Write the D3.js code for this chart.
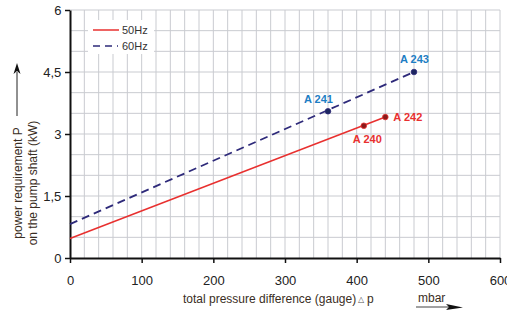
<!DOCTYPE html>
<html>
<head>
<meta charset="utf-8">
<script src="https://cdn.jsdelivr.net/npm/d3@7"></script>
<style>
  body { margin: 0; background: #fff; }
  text { font-family: "Liberation Sans", Arial, sans-serif; }
</style>
</head>
<body>
<div id="chart"></div>
<script>
// data
const xTicks = [0, 100, 200, 300, 400, 500, 600];
const yTicks = [0, 1.5, 3, 4.5, 6];
const yTickLabels = ["0", "1,5", "3", "4,5", "6"];

const line50 = [[0, 0.47], [440, 3.41]];
const line60 = [[0, 0.82], [480, 4.5]];

const pumpNames = ["A 240", "A 241", "A 242", "A 243"];
const pumpX = [410, 360, 440, 480];
const pumpY = [3.2, 3.55, 3.41, 4.5];
const pumpSeries = ["50", "60", "50", "60"];

const width = 507, height = 314;
const m = { left: 70, right: 7, top: 10, bottom: 56 };

const svg = d3.select('#chart').append('svg')
    .attr('width', width)
    .attr('height', height);

const x = d3.scaleLinear().domain([0, 600]).range([m.left, width - m.right]);
const y = d3.scaleLinear().domain([0, 6]).range([height - m.bottom, m.top]);

const red = '#e8302f', navy = '#2e2a7a', blue = '#1d7ec4';

// grid: every 20 mbar, every 0.5 kW
const grid = svg.append('g').attr('stroke', '#c9cbd0').attr('stroke-width', 1);
grid.selectAll('line.v').data(d3.range(20, 601, 20)).join('line')
    .attr('x1', d => x(d)).attr('x2', d => x(d))
    .attr('y1', y(0)).attr('y2', y(6));
grid.selectAll('line.h').data(d3.range(0.5, 6.01, 0.5)).join('line')
    .attr('x1', x(0)).attr('x2', x(600))
    .attr('y1', d => y(d)).attr('y2', d => y(d));

// axes
const xAxis = svg.append('g')
    .attr('transform', `translate(0,${y(0)})`)
    .call(d3.axisBottom(x).tickValues(xTicks).tickSize(5).tickSizeOuter(0));
const yAxis = svg.append('g')
    .attr('transform', `translate(${x(0)},0)`)
    .call(d3.axisLeft(y).tickValues(yTicks).tickFormat((d, i) => yTickLabels[i]).tickSize(5).tickSizeOuter(0));
[xAxis, yAxis].forEach(a => {
    a.select('.domain').attr('stroke', '#111').attr('stroke-width', 2);
    a.selectAll('.tick line').attr('stroke', '#111').attr('stroke-width', 1.5);
    a.selectAll('.tick text').attr('font-size', 13).attr('fill', '#222')
        .style('font-family', '"Liberation Sans", Arial, sans-serif');
});
xAxis.selectAll('.tick text').attr('dy', '1.45em');
yAxis.selectAll('.tick text').attr('dx', '-0.05em');

// legend box
const lg = svg.append('g');
lg.append('rect').attr('x', 88).attr('y', 20).attr('width', 66).attr('height', 34).attr('fill', '#fff');
lg.append('line').attr('x1', 93).attr('x2', 119).attr('y1', 30).attr('y2', 30)
    .attr('stroke', red).attr('stroke-width', 1.5);
lg.append('line').attr('x1', 93).attr('x2', 118).attr('y1', 46).attr('y2', 46)
    .attr('stroke', navy).attr('stroke-width', 1.5).attr('stroke-dasharray', '7,5');
lg.append('text').attr('x', 122).attr('y', 34).attr('font-size', 11).attr('fill', '#333').text('50Hz');
lg.append('text').attr('x', 122).attr('y', 50).attr('font-size', 11).attr('fill', '#333').text('60Hz');

// lines
const lineGen = d3.line().x(d => x(d[0])).y(d => y(d[1]));
svg.append('path').datum(line60).attr('d', lineGen)
    .attr('fill', 'none').attr('stroke', navy).attr('stroke-width', 1.8).attr('stroke-dasharray', '8,5');
svg.append('path').datum(line50).attr('d', lineGen)
    .attr('fill', 'none').attr('stroke', red).attr('stroke-width', 1.5);

// pump points + labels
const labelOffset = { "A 240": [-11, 17], "A 241": [-24, -8], "A 242": [8, 4], "A 243": [-14, -9] };
pumpNames.forEach((n, i) => {
    const c = pumpSeries[i] === "50" ? red : blue;
    svg.append('circle').attr('cx', x(pumpX[i])).attr('cy', y(pumpY[i])).attr('r', 2.8)
        .attr('fill', pumpSeries[i] === "50" ? '#8a1a1a' : '#1c2660')
        .attr('stroke', pumpSeries[i] === "50" ? red : navy).attr('stroke-width', 0.8);
    svg.append('text').attr('x', x(pumpX[i]) + labelOffset[n][0]).attr('y', y(pumpY[i]) + labelOffset[n][1])
        .attr('font-size', 11).attr('font-weight', 'bold').attr('fill', c).text(n);
});

// y label with arrow
const yl = svg.append('g').attr('fill', '#3a2e24').attr('font-size', 12);
yl.append('text').attr('transform', 'translate(22,183) rotate(-90)').attr('text-anchor', 'middle')
    .text('power requirement P');
yl.append('text').attr('transform', 'translate(37,183) rotate(-90)').attr('text-anchor', 'middle')
    .text('on the pump shaft (kW)');
svg.append('line').attr('x1', 17).attr('x2', 17).attr('y1', 116).attr('y2', 72)
    .attr('stroke', '#222').attr('stroke-width', 1);
svg.append('path').attr('d', 'M13.5,74 L17,63 L20.5,74 L17,71 Z').attr('fill', '#111');

// x label with arrow
svg.append('text').attr('x', 183).attr('y', 303).attr('font-size', 12).attr('fill', '#3a2e24')
    .text('total pressure difference (gauge)');
svg.append('text').attr('x', 358).attr('y', 302).attr('font-size', 8).attr('fill', '#555').text('\u25B3');
svg.append('text').attr('x', 367).attr('y', 303).attr('font-size', 12).attr('fill', '#3a2e24').text('p');
svg.append('text').attr('x', 418).attr('y', 302).attr('font-size', 12).attr('fill', '#3a2e24').text('mbar');
svg.append('line').attr('x1', 416).attr('x2', 452).attr('y1', 307).attr('y2', 307)
    .attr('stroke', '#444').attr('stroke-width', 1.2);
svg.append('path').attr('d', 'M446,304 L463,307.5 L446,310 L449,307 Z').attr('fill', '#111');
</script>
</body>
</html>
